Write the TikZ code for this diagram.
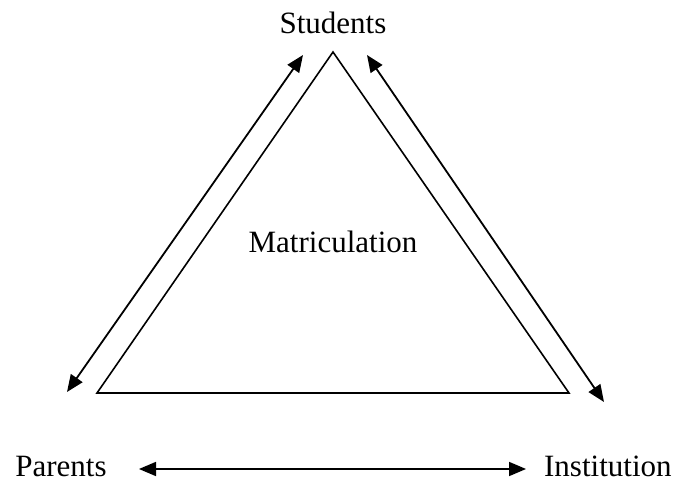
\documentclass[tikz,border=0pt]{standalone}
\usepackage{fontspec}
\setmainfont{Liberation Serif}
\usetikzlibrary{arrows.meta}
\begin{document}
\begin{tikzpicture}[x=0.5pt,y=-0.5pt,
  lbl/.style={font=\fontsize{15.5pt}{18pt}\selectfont, inner sep=0pt},
  tri/.style={draw, line width=0.8pt, line join=miter},
  dbl/.style={line width=0.9pt, {Triangle[length=8.5pt,width=7pt]}-{Triangle[length=8.5pt,width=7pt]}}]
\useasboundingbox (0,0) rectangle (676,481);
\node[lbl, anchor=base] (stu) at (333,34) {Students};
\node[lbl, anchor=base] (mat) at (333,253) {Matriculation};
\node[lbl, anchor=base west] (par) at (15,476) {Parents};
\node[lbl, anchor=base east] (ins) at (672,476) {Institution};
\coordinate (A) at (333,52);
\coordinate (B) at (97,393);
\coordinate (C) at (569,393);
\draw[tri] (A) -- (B) -- (C) -- cycle;
\coordinate (l1) at (303,55);
\coordinate (l2) at (67,392);
\coordinate (r1) at (367,55);
\coordinate (r2) at (604,402);
\coordinate (b1) at (139,469);
\coordinate (b2) at (526,469);
\draw[dbl] (l1) -- (l2);
\draw[dbl] (r1) -- (r2);
\draw[dbl] (b1) -- (b2);
\end{tikzpicture}
\end{document}
